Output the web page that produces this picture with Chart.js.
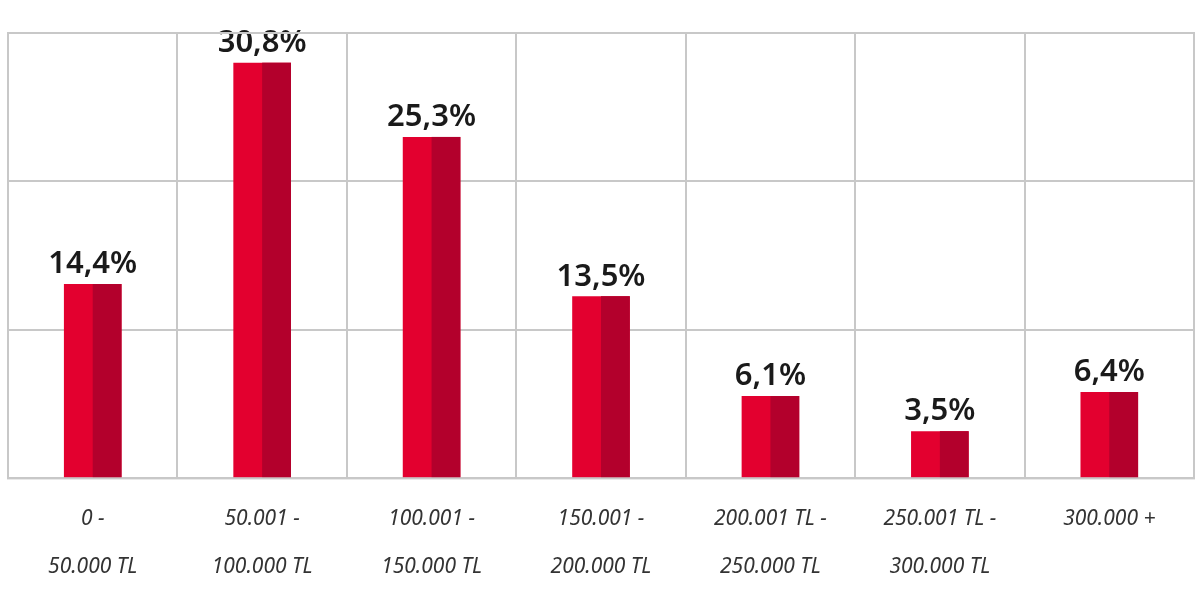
<!DOCTYPE html>
<html><head><meta charset="utf-8">
<script src="https://cdn.jsdelivr.net/npm/chart.js@4/dist/chart.umd.min.js"></script>
<style>html,body{margin:0;background:#fff}#w{width:1200px;height:607px}</style>
</head><body><div id="w"><canvas id="c"></canvas></div>
<script>
const categories = [["0 -","50.000 TL"],["50.001 -","100.000 TL"],["100.001 -","150.000 TL"],["150.001 -","200.000 TL"],["200.001 TL -","250.000 TL"],["250.001 TL -","300.000 TL"],["300.000 +",""]];
const values = [14.4, 30.8, 25.3, 13.5, 6.1, 3.5, 6.4];
const valueLabels = ["14,4%","30,8%","25,3%","13,5%","6,1%","3,5%","6,4%"];

const twoTone = {
  id:'twoTone',
  afterDatasetsDraw(chart){
    const ctx = chart.ctx;
    const meta = chart.getDatasetMeta(0);
    ctx.save();
    meta.data.forEach((el,i)=>{
      const p = el.getProps(['x','y','base','width'],true);
      ctx.fillStyle = '#b3002c';
      ctx.fillRect(p.x, p.y, p.width/2, p.base - p.y);
      ctx.fillStyle = '#1a1a1a';
      ctx.font = '600 31px "Noto Sans", sans-serif';
      ctx.textAlign = 'center';
      ctx.textBaseline = 'bottom';
      ctx.fillText(valueLabels[i], p.x, p.y - 4);
    });
    ctx.restore();
  }
};

new Chart(document.getElementById('c'), {
  type:'bar',
  data:{labels:categories, datasets:[{data:values, backgroundColor:'#e3002f', barPercentage:0.34, categoryPercentage:1}]},
  options:{
    responsive:true, maintainAspectRatio:false, animation:false,
    layout:{padding:{left:8,right:6,top:33,bottom:0}},
    plugins:{legend:{display:false},tooltip:{enabled:false}},
    scales:{
      x:{grid:{color:'#c8c8c8',lineWidth:2,offset:true,drawTicks:false},border:{color:'#c8c8c8',width:2},
         ticks:{color:'#333',padding:16,font:{family:'"Noto Sans", sans-serif',size:21,style:'italic',lineHeight:2.3}}},
      y:{min:0,max:33,ticks:{display:false,stepSize:11},grid:{color:'#c8c8c8',lineWidth:2,drawTicks:false},border:{display:false}}
    }
  },
  plugins:[twoTone,{id:'rb',afterDraw(chart){const a=chart.chartArea,c=chart.ctx;c.save();c.strokeStyle='#c8c8c8';c.lineWidth=2;c.strokeRect(a.left,a.top,a.right-a.left,a.bottom-a.top);c.restore();}}]
});
</script></body></html>
